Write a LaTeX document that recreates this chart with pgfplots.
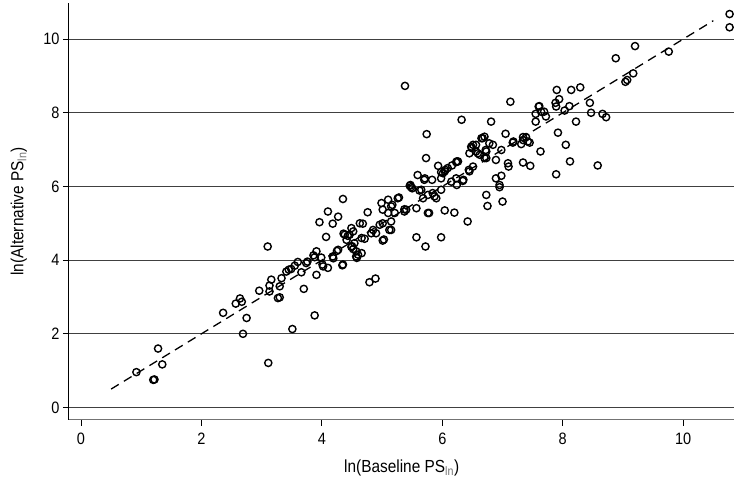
\documentclass[border=0pt]{standalone}
\usepackage{fontspec}
\setmainfont{Liberation Sans}[FakeStretch=0.88]
\usepackage{pgfplots}
\pgfplotsset{compat=1.18}
\usepackage{pgfplotstable}
\pgfplotstableread{
x y
0.92 0.96
1.20 0.75
1.22 0.76
1.28 1.60
1.35 1.17
2.36 2.57
2.57 2.82
2.64 2.96
2.67 2.87
2.69 2.00
2.75 2.43
2.96 3.17
3.10 4.37
3.11 1.21
3.13 3.31
3.13 3.15
3.16 3.47
3.27 2.97
3.30 2.99
3.30 3.29
3.33 3.51
3.41 3.69
3.45 3.74
3.49 3.76
3.51 2.13
3.55 3.85
3.60 3.95
3.66 3.67
3.70 3.22
3.74 3.92
3.76 3.96
3.88 2.50
3.86 4.13
3.91 4.24
3.91 3.60
3.88 4.08
3.96 5.03
3.99 4.07
4.01 3.88
4.02 3.83
4.07 4.63
4.10 3.79
4.10 5.32
4.18 4.10
4.18 4.99
4.19 4.05
4.25 4.25
4.27 5.18
4.27 4.28
4.35 3.88
4.34 3.86
4.35 5.66
4.36 4.72
4.38 4.69
4.41 4.55
4.43 4.66
4.46 4.69
4.49 4.36
4.49 4.87
4.50 4.38
4.52 4.78
4.52 4.30
4.54 4.46
4.57 4.10
4.57 4.24
4.58 4.06
4.60 4.15
4.63 5.00
4.66 4.19
4.66 4.60
4.68 4.99
4.71 4.58
4.76 5.30
4.79 3.40
4.82 4.73
4.85 4.82
4.89 3.50
4.90 4.73
4.96 4.96
4.99 5.55
5.01 5.00
5.01 5.37
5.01 4.53
5.03 4.56
5.10 5.64
5.10 5.28
5.12 4.82
5.15 5.05
5.15 5.46
5.17 5.50
5.15 4.82
5.21 5.28
5.26 5.68
5.28 5.70
5.37 5.32
5.37 5.38
5.38 8.73
5.40 5.37
5.46 6.02
5.47 6.04
5.48 5.98
5.50 5.95
5.57 5.41
5.57 4.62
5.59 6.31
5.62 5.89
5.65 5.91
5.68 5.68
5.70 6.18
5.71 6.22
5.72 4.37
5.73 6.77
5.74 7.42
5.76 5.77
5.76 5.28
5.78 5.28
5.83 6.18
5.84 5.82
5.87 5.73
5.90 5.68
5.93 6.56
5.98 6.39
5.98 6.22
5.98 5.91
5.98 4.62
6.01 6.36
6.04 6.41
6.05 6.45
6.04 5.35
6.09 6.50
6.15 6.13
6.16 6.57
6.20 5.29
6.23 6.66
6.24 6.68
6.23 6.22
6.24 6.04
6.26 6.68
6.32 7.81
6.34 6.15
6.35 6.18
6.42 5.05
6.44 6.45
6.45 6.41
6.45 6.90
6.48 7.08
6.49 7.04
6.51 6.54
6.51 7.13
6.56 7.13
6.56 6.95
6.59 6.90
6.62 6.86
6.65 7.31
6.67 7.31
6.70 7.35
6.70 6.77
6.72 6.99
6.73 6.77
6.73 6.95
6.73 5.77
6.75 5.47
6.78 7.17
6.81 7.76
6.84 7.13
6.89 6.72
6.89 6.22
6.95 6.04
6.95 5.98
6.98 6.99
6.98 6.29
7.00 5.59
7.05 7.43
7.09 6.63
7.10 6.54
7.13 8.30
7.17 7.19
7.18 7.22
7.31 7.15
7.34 7.26
7.34 7.34
7.34 6.65
7.39 7.34
7.42 7.22
7.45 7.19
7.46 6.56
7.55 7.97
7.55 7.76
7.60 8.17
7.61 8.18
7.63 6.95
7.64 8.03
7.69 8.03
7.72 7.90
7.88 8.27
7.89 8.17
7.89 6.33
7.90 8.62
7.92 7.46
7.94 8.37
8.03 8.06
8.05 7.13
8.11 8.18
8.12 6.68
8.14 8.62
8.22 7.76
8.29 8.69
8.45 8.27
8.47 8.00
8.58 6.57
8.66 7.97
8.72 7.88
8.88 9.48
9.04 8.84
9.07 8.89
9.17 9.07
9.20 9.81
9.76 9.66
10.77 10.68
10.77 10.32
}\scatterdata
\begin{document}
\begin{tikzpicture}[x=1bp,y=1bp]
\begin{axis}[
  scale only axis,
  width=666bp, height=417bp,
  xmin=-0.2, xmax=10.85, ymin=-0.33, ymax=10.98,
  axis x line*=bottom, axis y line*=left,
  x axis line style={draw=black!55, line width=1.2bp, -},
  y axis line style={draw=black, line width=1bp, -},
  xtick={0,2,...,10}, ytick={0,2,...,10},
  tick align=outside, major tick length=6bp,
  tick style={black, line width=0.9bp},
  ymajorgrids, grid style={black!75, line width=0.9bp},
  /pgf/number format/assume math mode=true,
  font=\fontsize{17.5bp}{20bp}\selectfont,
  tick label style={font=\fontsize{16.5bp}{19bp}\selectfont},
  xticklabel style={yshift=-4bp},
  xlabel={ln(Baseline PS\textsubscript{\textcolor{black!55}{ln}})},
  ylabel={ln(Alternative PS\textsubscript{\textcolor{black!55}{ln}})},
  xlabel style={yshift=-8bp},
  ylabel style={yshift=9.5bp},
  clip=false,
]
\addplot[black, line width=1.3bp, dash pattern=on 9bp off 6bp] coordinates {(0.5,0.5) (10.5,10.5)};
\addplot[only marks, mark=o, mark size=3.6bp, mark options={line width=1.4bp, black}] table[x=x,y=y] {\scatterdata};
\end{axis}
\path (current axis.south west) ++(-69bp,-64bp) (current axis.north west) ++(0,3bp);
\end{tikzpicture}
\end{document}
